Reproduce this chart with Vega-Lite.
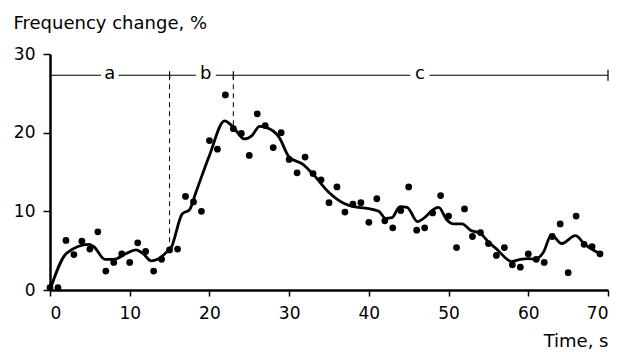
{
  "$schema": "https://vega.github.io/schema/vega-lite/v6.json",
  "width": 558,
  "height": 236,
  "autosize": {"type": "none"},
  "padding": {"left": 50, "top": 54, "right": 11, "bottom": 62},
  "background": "white",
  "config": {"view": {"stroke": null}},
  "datasets": {
    "pts": [
      {"t":0,"v":0.3},{"t":1,"v":0.3},{"t":2,"v":6.3},{"t":3,"v":4.5},{"t":4,"v":6.2},{"t":5,"v":5.2},{"t":6,"v":7.4},{"t":7,"v":2.4},{"t":8,"v":3.5},{"t":9,"v":4.6},
      {"t":10,"v":3.5},{"t":11,"v":6.0},{"t":12,"v":4.9},{"t":13,"v":2.4},{"t":14,"v":3.9},{"t":15,"v":5.1},{"t":16,"v":5.2},{"t":17,"v":11.9},{"t":18,"v":11.2},{"t":19,"v":10.0},
      {"t":20,"v":19.0},{"t":21,"v":17.9},{"t":22,"v":24.8},{"t":23,"v":20.5},{"t":24,"v":19.9},{"t":25,"v":17.1},{"t":26,"v":22.4},{"t":27,"v":20.9},{"t":28,"v":18.1},{"t":29,"v":20.0},
      {"t":30,"v":16.6},{"t":31,"v":14.9},{"t":32,"v":16.9},{"t":33,"v":14.8},{"t":34,"v":14.0},{"t":35,"v":11.1},{"t":36,"v":13.1},{"t":37,"v":9.9},{"t":38,"v":10.9},{"t":39,"v":11.1},
      {"t":40,"v":8.6},{"t":41,"v":11.6},{"t":42,"v":8.8},{"t":43,"v":7.9},{"t":44,"v":10.1},{"t":45,"v":13.1},{"t":46,"v":7.6},{"t":47,"v":7.9},{"t":48,"v":9.8},{"t":49,"v":12.0},
      {"t":50,"v":9.4},{"t":51,"v":5.4},{"t":52,"v":10.3},{"t":53,"v":6.8},{"t":54,"v":7.3},{"t":55,"v":5.9},{"t":56,"v":4.4},{"t":57,"v":5.4},{"t":58,"v":3.2},{"t":59,"v":2.9},
      {"t":60,"v":4.6},{"t":61,"v":3.9},{"t":62,"v":3.5},{"t":63,"v":6.8},{"t":64,"v":8.4},{"t":65,"v":2.2},{"t":66,"v":9.4},{"t":67,"v":5.8},{"t":68,"v":5.5},{"t":69,"v":4.6}
    ],
    "curve": [
      {"t":0,"v":0},{"t":2.1,"v":4.7},{"t":4.9,"v":5.8},{"t":5.5,"v":5.5},{"t":6.9,"v":3.9},{"t":8,"v":3.9},{"t":9.5,"v":4.6},{"t":10.8,"v":5.1},{"t":11.7,"v":4.6},{"t":12.7,"v":3.7},
      {"t":13.5,"v":3.9},{"t":14.5,"v":4.7},{"t":15.2,"v":5.4},{"t":16.6,"v":9.7},{"t":17.5,"v":10.2},{"t":18.3,"v":12.4},{"t":20,"v":17.1},{"t":21.9,"v":21.5},{"t":22.9,"v":20.8},{"t":24.4,"v":19.2},
      {"t":25.3,"v":19.6},{"t":26.3,"v":20.8},{"t":27,"v":20.7},{"t":28.75,"v":19.4},{"t":30,"v":16.9},{"t":31.7,"v":16.0},{"t":33.1,"v":14.6},{"t":35,"v":12.4},{"t":36.9,"v":11.0},{"t":38.1,"v":10.6},
      {"t":39.6,"v":10.4},{"t":41.25,"v":10.0},{"t":42.1,"v":9.1},{"t":42.9,"v":9.2},{"t":43.9,"v":10.6},{"t":44.8,"v":10.5},{"t":46.1,"v":8.7},{"t":47.1,"v":9.3},{"t":47.9,"v":10.1},{"t":48.75,"v":10.5},
      {"t":49.8,"v":8.9},{"t":50.6,"v":8.4},{"t":51.7,"v":8.4},{"t":52.75,"v":7.6},{"t":54,"v":7.2},{"t":55,"v":6.1},{"t":56.25,"v":5.0},{"t":57,"v":4.2},{"t":57.9,"v":3.6},{"t":59,"v":3.9},
      {"t":60,"v":4.0},{"t":60.8,"v":3.9},{"t":61.9,"v":4.8},{"t":62.9,"v":7.0},{"t":64.2,"v":5.9},{"t":65.9,"v":6.9},{"t":67.1,"v":5.8},{"t":69,"v":4.6}
    ],
    "bracket": [
      {"t":0,"t2":6.4,"v":27.3},{"t":8.6,"t2":18.3,"v":27.3},{"t":20.8,"t2":45.2,"v":27.3},{"t":47.6,"t2":70,"v":27.3}
    ],
    "bticks": [
      {"t":15,"v":26.8,"v2":27.8},{"t":23,"v":26.8,"v2":27.8},{"t":70,"v":26.6,"v2":28.0}
    ],
    "dashes": [
      {"t":15,"v":27.3,"v2":5.5},{"t":23,"v":27.3,"v2":20.8}
    ],
    "labels": [
      {"t":7.5,"v":27.3,"lab":"a"},{"t":19.55,"v":27.3,"lab":"b"},{"t":46.4,"v":27.3,"lab":"c"}
    ]
  },
  "encoding": {
    "x": {
      "field": "t", "type": "quantitative",
      "scale": {"domain": [0, 70], "nice": false, "zero": false},
      "axis": {
        "values": [0,10,20,30,40,50,60,70], "grid": false,
        "domainColor": "black", "domainWidth": 2.5, "tickColor": "black", "tickWidth": 1.5, "tickSize": 6,
        "labelFont": "DejaVu Sans", "labelFontSize": 17, "labelColor": "black", "labelPadding": 9,
        "title": "Time, s", "titleFont": "DejaVu Sans", "titleFontSize": 18, "titleFontWeight": "normal", "titleColor": "black",
        "titleAnchor": "end", "titleAlign": "right", "titleX": 558, "titleY": 56, "titleBaseline": "alphabetic"
      }
    },
    "y": {
      "field": "v", "type": "quantitative",
      "scale": {"domain": [0, 30], "nice": false},
      "axis": {
        "values": [0,10,20,30], "grid": false,
        "domainColor": "black", "domainWidth": 2.5, "tickColor": "black", "tickWidth": 1.5, "tickSize": 7,
        "labelFont": "DejaVu Sans", "labelFontSize": 17, "labelColor": "black", "labelPadding": 8,
        "title": "Frequency change, %", "titleFont": "DejaVu Sans", "titleFontSize": 18, "titleFontWeight": "normal", "titleColor": "black",
        "titleAngle": 0, "titleAlign": "left", "titleBaseline": "alphabetic", "titleX": -37, "titleY": -26
      }
    }
  },
  "layer": [
    {"data": {"name": "bracket"}, "mark": {"type": "rule", "color": "black", "strokeWidth": 1.2}, "encoding": {"x2": {"field": "t2"}}},
    {"data": {"name": "bticks"}, "mark": {"type": "rule", "color": "black", "strokeWidth": 1.2}, "encoding": {"y2": {"field": "v2"}}},
    {"data": {"name": "dashes"}, "mark": {"type": "rule", "color": "black", "strokeWidth": 1, "strokeDash": [5, 4]}, "encoding": {"y2": {"field": "v2"}}},
    {"data": {"name": "labels"}, "mark": {"type": "text", "font": "DejaVu Sans", "fontSize": 18, "color": "black", "baseline": "middle", "align": "center", "dy": -1}, "encoding": {"text": {"field": "lab"}}},
    {"data": {"name": "curve"}, "mark": {"type": "line", "color": "black", "strokeWidth": 2.8, "interpolate": "monotone"}, "encoding": {}},
    {"data": {"name": "pts"}, "mark": {"type": "circle", "color": "black", "opacity": 1, "size": 46}, "encoding": {}}
  ]
}
